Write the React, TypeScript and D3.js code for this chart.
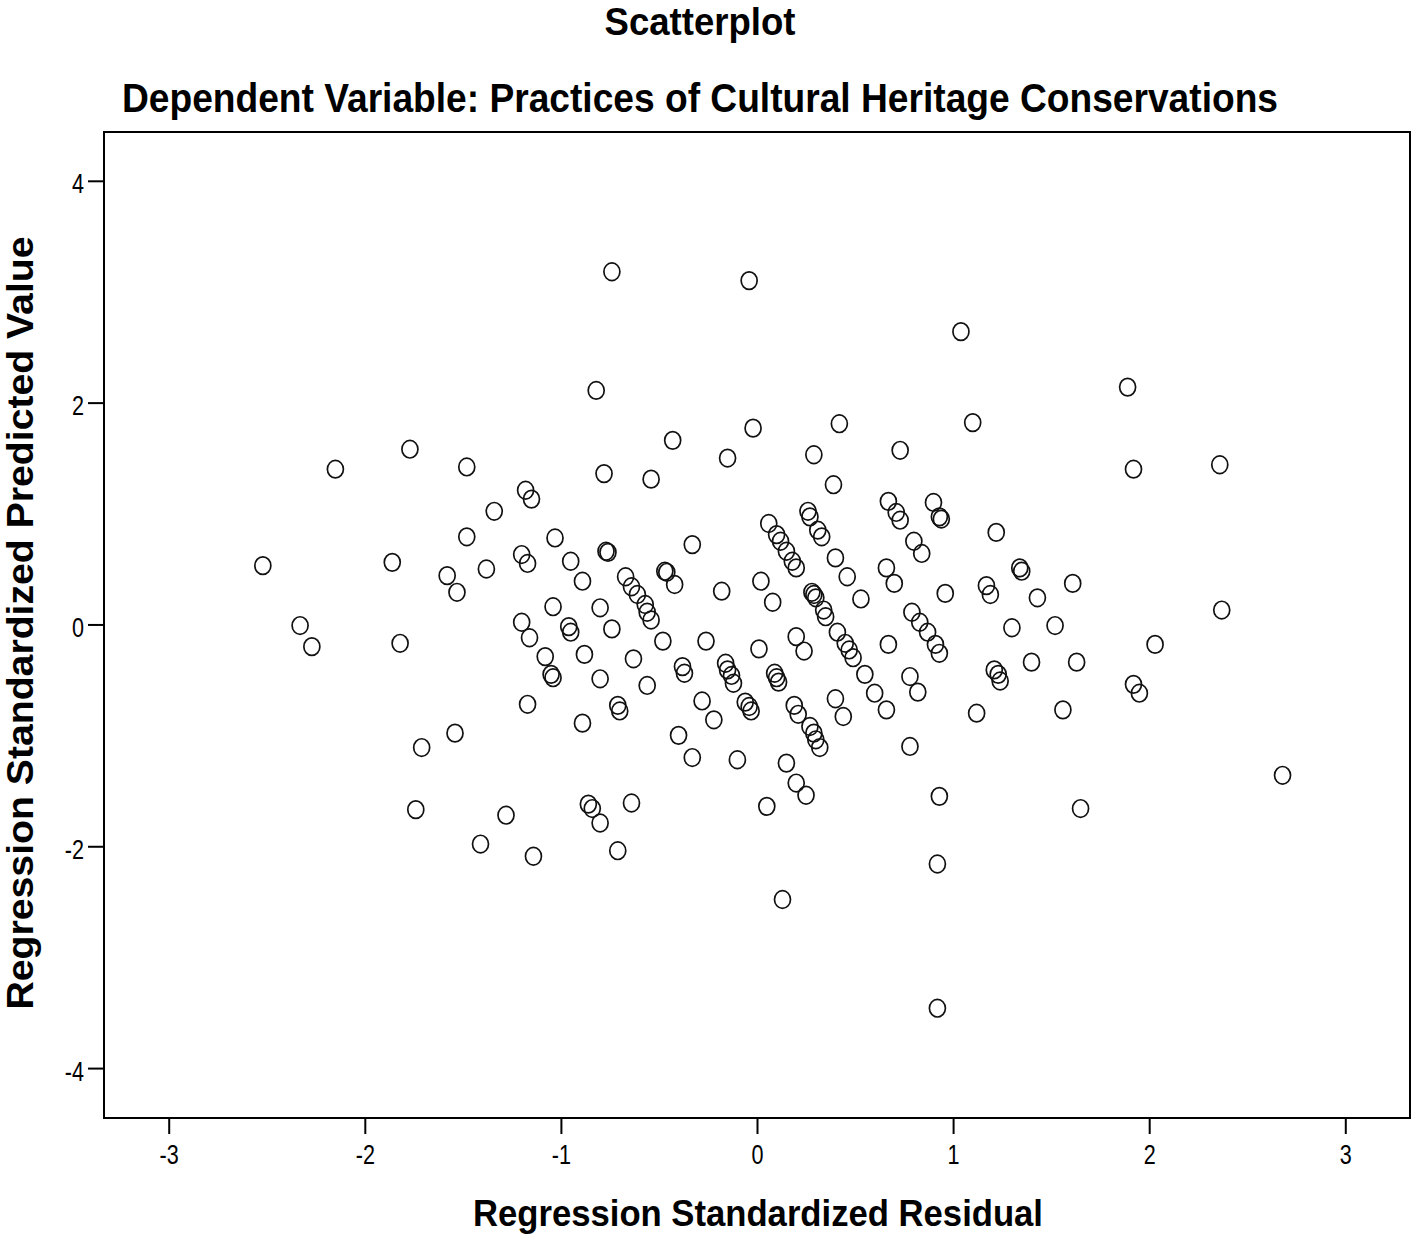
import React, { useEffect, useRef } from "react";
import * as d3 from "d3";

// Regression residuals (x) and predicted values (y)
const residual = [
  -0.74, -0.04, 1.04, -0.82, 1.89, -0.02, 0.42, 1.10, -0.43, -1.77,
  0.73, -0.15, 0.29, -2.15, -1.48, -0.78, -0.54, 1.92, 2.36, 0.39,
  -1.18, -1.15, -1.34, 0.67, 0.71, 0.73, 0.90, 0.93, 0.94, 0.26,
  0.27, 0.31, 0.33, 0.06, 0.10, 0.12, 0.15, 0.18, 0.20, 0.80,
  0.84, 1.22, -1.48, -1.03, -0.33, -2.52, -1.86, -1.58, -1.53, -1.38,
  -1.20, -1.17, -0.95, -0.89, -0.77, -0.76, -0.67, -0.64, -0.61, -0.57,
  -0.56, -0.54, -0.47, -0.46, -0.42, -0.18, 0.02, 0.08, 0.40, 0.46,
  0.66, 0.70, 0.96, 0.53, 0.28, 0.29, 0.30, 0.34, 0.35, 0.41,
  0.45, 0.47, 0.49, 0.79, 0.83, 0.87, 0.91, 0.93, 0.67, 1.34,
  1.35, 1.17, 1.19, 1.43, 1.61, 1.30, 1.52, 2.37, 2.03, 1.40,
  1.63, 1.21, 1.23, 1.24, 1.12, 1.56, 1.92, 1.95, 2.68, 1.65,
  -2.33, -2.27, -1.82, -1.20, -1.16, -1.04, -0.80, -0.96, -0.95, -0.74,
  -0.48, -0.26, 0.01, 0.20, 0.24, -0.88, -0.63, -1.08,
  -1.05, -1.04, -0.80, -0.56, -0.38, -0.37,
  -0.16, -0.15, -0.13, -0.12, 0.09, 0.10, 0.11,
  -0.06, -0.04, -0.03, 0.19, 0.21, 0.27, 0.29, 0.30, 0.32, 0.40, 0.44, 0.55, 0.60, 0.66,
  0.78, 0.82, 0.78,
  -0.71, -0.70, -0.89, -1.17, -0.28, -0.22, -0.40, -0.33, -0.10, 0.15, 0.20, 0.25, 0.05, 0.93,
  -1.54, -1.71, -1.74, -1.28, -1.41, -1.14, -0.86, -0.84, -0.80, -0.64, -0.71, 0.13, 0.92, 0.92,
];

const predicted = [
  3.18, 3.10, 2.64, 2.11, 2.14, 1.77, 1.81, 1.82, 1.66, 1.58,
  1.57, 1.50, 1.53, 1.40, 1.42, 1.36, 1.31, 1.40, 1.44, 1.26,
  1.21, 1.13, 1.02, 1.11, 1.01, 0.94, 1.10, 0.97, 0.95, 1.02,
  0.97, 0.85, 0.79, 0.91, 0.81, 0.75, 0.66, 0.57, 0.51, 0.75,
  0.64, 0.83, 0.79, 0.78, 0.72, 0.53, 0.56, 0.44, 0.29, 0.50,
  0.63, 0.55, 0.57, 0.39, 0.66, 0.65, 0.43, 0.34, 0.27, 0.18,
  0.11, 0.04, 0.48, 0.47, 0.36, 0.30, 0.39, 0.20, 0.60, 0.43,
  0.51, 0.37, 0.28, 0.23, 0.29, 0.27, 0.24, 0.13, 0.07, -0.07,
  -0.17, -0.23, -0.30, 0.11, 0.02, -0.07, -0.18, -0.26, -0.18, 0.51,
  0.48, 0.35, 0.27, 0.24, 0.37, -0.03, -0.01, 0.13, -0.18, -0.34,
  -0.34, -0.41, -0.45, -0.51, -0.80, -0.77, -0.54, -0.62, -1.36, -1.66,
  -0.01, -0.20, -0.17, 0.02, -0.12, 0.16, 0.15, -0.02, -0.07, -0.04,
  -0.15, -0.15, -0.22, -0.11, -0.24, -0.27, -0.31, -0.29,
  -0.45, -0.48, -0.49, -0.55, -0.38, -0.44,
  -0.35, -0.41, -0.46, -0.53, -0.44, -0.48, -0.52,
  -0.70, -0.74, -0.78, -0.73, -0.81, -0.92, -0.98, -1.04, -1.11, -0.67, -0.83, -0.45, -0.62, -0.77,
  -0.47, -0.61, -1.10,
  -0.73, -0.78, -0.89, -0.72, -0.69, -0.86, -1.00, -1.20, -1.22, -1.25, -1.43, -1.54, -1.64, -1.55,
  -0.98, -1.11, -1.67, -1.72, -1.98, -2.09, -1.62, -1.66, -1.79, -1.61, -2.04, -2.48, -2.16, -3.46,
];

const xTicks = [-3, -2, -1, 0, 1, 2, 3];
const yTicks = [-4, -2, 0, 2, 4];

const width = 1416;
const height = 1237;
const plot = { left: 104, right: 1410, top: 132, bottom: 1118 };

const titleFont = "'Liberation Sans', Arial, Helvetica, sans-serif";
const tickFont = "'Liberation Sans', Arial, sans-serif";
const squeeze = 0.8; // tick labels are drawn in a condensed face

export default function App() {
  const xAxisRef = useRef<SVGGElement>(null);
  const yAxisRef = useRef<SVGGElement>(null);

  const xScale = d3.scaleLinear().domain([-3.33, 3.33]).range([plot.left, plot.right]);
  const yScale = d3.scaleLinear().domain([-4.45, 4.44]).range([plot.bottom, plot.top]);

  useEffect(() => {
    const xAxis = d3.axisBottom(xScale).tickValues(xTicks).tickSize(16).tickPadding(11)
      .tickFormat(d => String(d));
    const yAxis = d3.axisLeft(yScale).tickValues(yTicks).tickSize(16).tickPadding(4)
      .tickFormat(d => String(d));

    const gx = d3.select(xAxisRef.current).call(xAxis);
    const gy = d3.select(yAxisRef.current).call(yAxis);

    [gx, gy].forEach(g => {
      g.select(".domain").remove();
      g.selectAll(".tick line").attr("stroke", "#000").attr("stroke-width", 2);
      g.selectAll(".tick text")
        .attr("fill", "#000")
        .attr("transform", `scale(${squeeze},1)`)
        .style("font-family", tickFont)
        .style("font-size", "27px");
    });
    gy.selectAll(".tick text").attr("x", -20 / squeeze).attr("dy", "0.45em");
  }, []);

  const points = residual.map((r, i) => ({ r, p: predicted[i] }));

  return (
    <svg width={width} height={height} style={{ position: "absolute", left: 0, top: 0, background: "#fff" }}>
      <text x={700} y={35} textAnchor="middle" fontFamily={titleFont} fontWeight="bold" fontSize={38}
        textLength={191} lengthAdjust="spacingAndGlyphs">Scatterplot</text>
      <text x={700} y={112} textAnchor="middle" fontFamily={titleFont} fontWeight="bold" fontSize={41}
        textLength={1156} lengthAdjust="spacingAndGlyphs">
        Dependent Variable: Practices of Cultural Heritage Conservations
      </text>

      <rect x={plot.left} y={plot.top} width={plot.right - plot.left} height={plot.bottom - plot.top}
        fill="none" stroke="#000" strokeWidth={2} />

      <g ref={xAxisRef} transform={`translate(0,${plot.bottom})`} />
      <g ref={yAxisRef} transform={`translate(${plot.left},0)`} />

      <g fill="none" stroke="#111" strokeWidth={1.7}>
        {points.map((d, i) => (
          <ellipse key={i} cx={xScale(d.r)} cy={yScale(d.p)} rx={8} ry={8.8} />
        ))}
      </g>

      <text x={758} y={1226} textAnchor="middle" fontFamily={titleFont} fontWeight="bold" fontSize={37}
        textLength={570} lengthAdjust="spacingAndGlyphs">Regression Standardized Residual</text>
      <text transform={`translate(33,623) rotate(-90)`} textAnchor="middle" fontFamily={titleFont}
        fontWeight="bold" fontSize={37} textLength={773} lengthAdjust="spacingAndGlyphs">
        Regression Standardized Predicted Value
      </text>
    </svg>
  );
}
